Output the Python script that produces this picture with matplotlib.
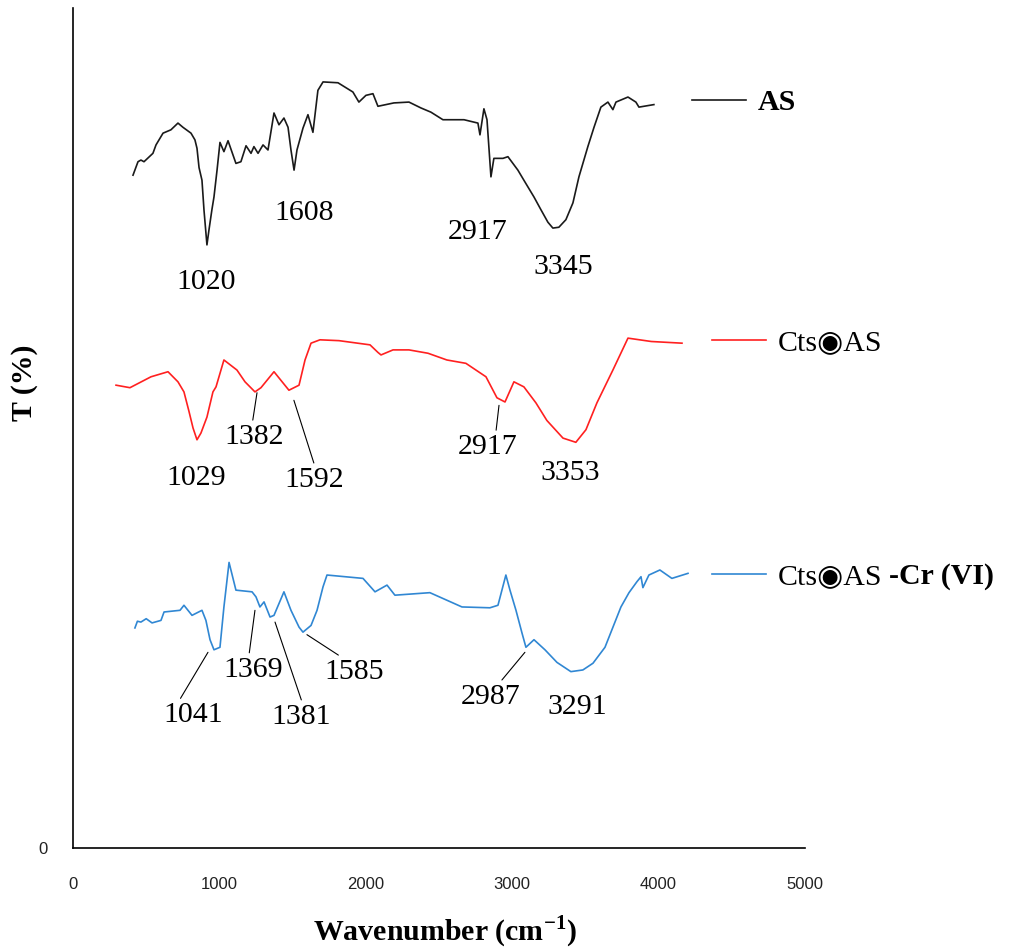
import matplotlib
matplotlib.use("Agg")
import matplotlib.pyplot as plt

plt.rcParams["mathtext.fontset"] = "custom"
plt.rcParams["mathtext.rm"] = "Liberation Serif:bold"
plt.rcParams["mathtext.bf"] = "Liberation Serif:bold"

# FTIR spectra (wavenumber cm-1, transmittance with offset)
wn_as = [410, 444, 464, 485, 546, 567, 615, 669, 717, 751, 806, 833, 847, 861,
         881, 895, 915, 929, 949, 963, 984, 1004, 1031, 1059, 1113, 1147, 1182,
         1216, 1236, 1264, 1298, 1332, 1373, 1407, 1441, 1469, 1489, 1510, 1530,
         1571, 1605, 1639, 1673, 1708, 1810, 1912, 1953, 2001, 2049, 2083, 2192,
         2295, 2377, 2445, 2527, 2671, 2766, 2780, 2807, 2828, 2855, 2875, 2937,
         2971, 3039, 3080, 3149, 3196, 3244, 3278, 3319, 3367, 3415, 3456, 3517,
         3559, 3606, 3654, 3688, 3709, 3791, 3845, 3866, 3968]
t_as = [80.1, 81.7, 81.9, 81.7, 82.7, 83.7, 85.1, 85.5, 86.3, 85.8, 85.1, 84.3,
        83.3, 81.0, 79.5, 75.9, 71.8, 73.6, 76.0, 77.5, 80.7, 84.0, 82.9, 84.2,
        81.5, 81.7, 83.6, 82.7, 83.5, 82.7, 83.7, 83.1, 87.5, 86.1, 86.9, 85.8,
        83.1, 80.7, 83.1, 85.7, 87.3, 85.2, 90.2, 91.2, 91.1, 90.0, 88.8, 89.6,
        89.8, 88.3, 88.7, 88.8, 88.1, 87.6, 86.7, 86.7, 86.3, 84.9, 88.0, 86.7,
        79.9, 82.1, 82.1, 82.3, 80.7, 79.5, 77.5, 76.0, 74.5, 73.8, 73.9, 74.8,
        76.8, 79.9, 83.5, 85.8, 88.2, 88.8, 87.9, 88.8, 89.4, 88.8, 88.2, 88.5]

wn_cts = [294, 389, 533, 649, 717, 758, 792, 820, 847, 874, 915, 956, 977, 1031,
          1120, 1175, 1243, 1284, 1373, 1475, 1544, 1585, 1626, 1687, 1817, 2029,
          2083, 2104, 2186, 2295, 2425, 2554, 2684, 2821, 2869, 2896, 2951, 3012,
          3080, 3162, 3237, 3347, 3435, 3504, 3579, 3688, 3791, 3950, 4160]
t_cts = [55.1, 54.8, 56.1, 56.7, 55.5, 54.3, 52.0, 50.0, 48.6, 49.4, 51.3, 54.3,
         54.9, 58.1, 56.9, 55.5, 54.3, 54.8, 56.7, 54.5, 55.1, 58.1, 60.1, 60.5,
         60.4, 59.9, 59.0, 58.7, 59.3, 59.3, 58.9, 58.1, 57.7, 56.1, 54.5, 53.6,
         53.1, 55.5, 54.9, 53.0, 50.9, 48.8, 48.3, 49.8, 53.0, 56.9, 60.7, 60.3,
         60.1]

wn_cr = [423, 440, 464, 500, 540, 601, 622, 731, 758, 813, 881, 908, 936, 963,
         1004, 1031, 1066, 1113, 1223, 1250, 1277, 1305, 1346, 1373, 1441, 1489,
         1544, 1571, 1626, 1667, 1708, 1735, 1981, 2063, 2145, 2199, 2438, 2657,
         2848, 2903, 2930, 2957, 2985, 3026, 3067, 3094, 3149, 3224, 3306, 3401,
         3483, 3552, 3634, 3743, 3798, 3852, 3880, 3893, 3934, 4009, 4091, 4201]
t_cr = [26.2, 27.0, 26.9, 27.3, 26.8, 27.1, 28.1, 28.3, 28.9, 27.7, 28.3, 27.1,
        24.8, 23.6, 23.9, 28.7, 34.0, 30.7, 30.5, 29.9, 28.7, 29.3, 27.5, 27.7,
        30.5, 28.3, 26.3, 25.7, 26.5, 28.3, 31.1, 32.5, 32.1, 30.5, 31.3, 30.1,
        30.4, 28.7, 28.6, 28.9, 30.7, 32.5, 30.7, 28.3, 25.6, 23.9, 24.8, 23.6,
        22.1, 21.0, 21.2, 22.0, 23.9, 28.7, 30.4, 31.7, 32.3, 31.0, 32.5, 33.1,
        32.1, 32.7]

# peak labels: text, label position (wn, T), pointer target or None, line anchor on text
peaks_as = [("1020", 908, 67.4, None, None), ("1608", 1578, 75.6, None, None),
            ("2917", 2766, 73.3, None, None), ("3345", 3347, 69.2, None, None)]
peaks_cts = [("1029", 840, 44.0, None, None),
             ("1382", 1236, 48.9, (1257, 54.2), (0.47, 1)),
             ("1592", 1646, 43.8, (1509, 53.3), (0.52, 1)),
             ("2917", 2834, 47.7, (2910, 52.7), (0.63, 1)),
             ("3353", 3395, 44.6, None, None)]
peaks_cr = [("1041", 820, 15.8, (922, 23.3), (0.25, 1)),
            ("1369", 1229, 21.2, (1243, 28.3), (0.43, 1)),
            ("1381", 1557, 15.6, (1380, 26.9), (0.53, 1)),
            ("1585", 1919, 21.0, (1598, 25.4), (0.33, 1)),
            ("2987", 2855, 18.0, (3087, 23.3), (0.63, 1)),
            ("3291", 3442, 16.8, None, None)]

SERIF = ["Liberation Serif", "DejaVu Sans"]
FS = 21.5

fig = plt.figure(figsize=(10.11, 9.52), dpi=100)
ax = fig.add_axes([0.0722, 0.1092, 0.724, 0.8824])

l_as, = ax.plot(wn_as, t_as, color="#1a1a1a", lw=1.2)
l_cts, = ax.plot(wn_cts, t_cts, color="#ff2020", lw=1.2)
l_cr, = ax.plot(wn_cr, t_cr, color="#3087d3", lw=1.2)

for peaks in (peaks_as, peaks_cts, peaks_cr):
    for txt, x, y, target, rel in peaks:
        if target is None:
            ax.text(x, y, txt, ha="center", va="center", family=SERIF, fontsize=FS)
        else:
            ax.annotate(txt, xy=target, xytext=(x, y), ha="center", va="center",
                        family=SERIF, fontsize=FS,
                        arrowprops=dict(arrowstyle="-", color="black", lw=0.8,
                                        shrinkA=1, shrinkB=0, relpos=rel))

ax.set_xlim(0, 5000)
ax.set_ylim(0, 100)
ax.set_xticks([0, 1000, 2000, 3000, 4000, 5000])
ax.set_yticks([0])
ax.tick_params(axis="both", length=0, labelsize=12, labelcolor="#222222")
ax.tick_params(axis="x", pad=21)
ax.tick_params(axis="y", pad=18)
for lab in ax.get_xticklabels() + ax.get_yticklabels():
    lab.set_family("Liberation Sans")
for s in ("top", "right"):
    ax.spines[s].set_visible(False)
for s in ("left", "bottom"):
    ax.spines[s].set_linewidth(1.2)

ax.set_xlabel("Wavenumber (cm$^{-1}$)", family="Liberation Serif",
              fontweight="bold", fontsize=FS)
ax.xaxis.set_label_coords(0.508, -0.078)
ax.set_ylabel("T (%)", family="Liberation Serif", fontweight="bold", fontsize=FS)
ax.yaxis.set_label_coords(-0.048, 0.554)

# three separate legend entries next to their spectra
legend_kw = dict(frameon=False, loc="center left", borderpad=0, borderaxespad=0,
                 handlelength=1.8, handletextpad=0.4)
leg1 = ax.legend([l_as], ["AS"], bbox_to_anchor=(0.8456, 0.887),
                 prop=dict(family=SERIF, size=FS, weight="bold"), **legend_kw)
ax.add_artist(leg1)
leg2 = ax.legend([l_cts], ["Cts\u25c9AS"], bbox_to_anchor=(0.873, 0.601),
                 prop=dict(family=SERIF, size=FS), **legend_kw)
ax.add_artist(leg2)
leg3 = ax.legend([l_cr], ["Cts\u25c9AS"], bbox_to_anchor=(0.873, 0.3226),
                 prop=dict(family=SERIF, size=FS), **legend_kw)
ax.annotate("-Cr (VI)", xy=(1, 0), xycoords=leg3.get_texts()[0],
            xytext=(5, 0), textcoords="offset points", ha="left", va="bottom",
            family="Liberation Serif", fontweight="bold", fontsize=FS,
            annotation_clip=False, zorder=10)

fig.savefig("out.png", dpi=100)
